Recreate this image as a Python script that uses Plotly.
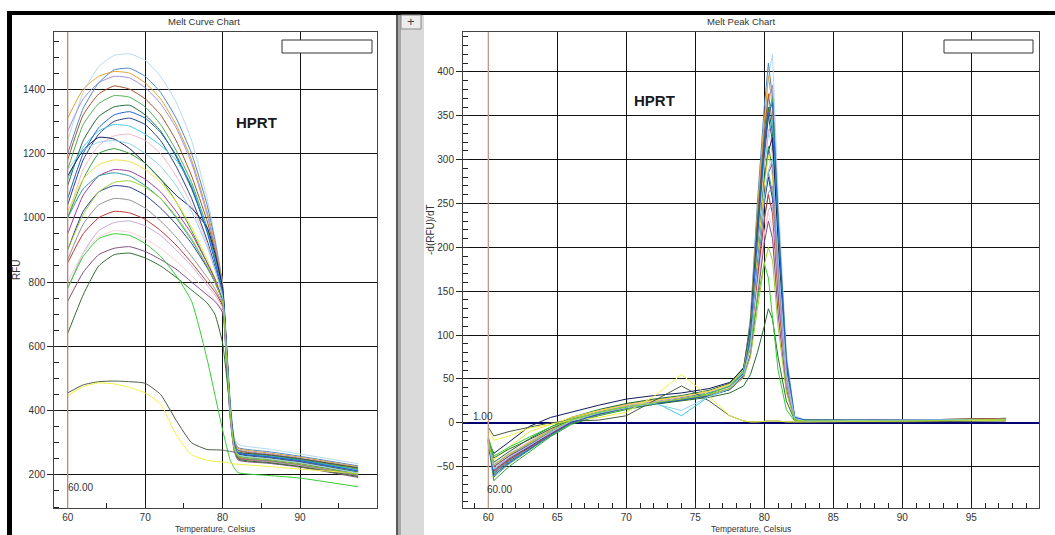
import plotly.graph_objects as go

# ---------------- data ----------------
melt_temps = [60, 62, 64, 66, 68, 70, 72, 74, 76, 78, 79, 80, 80.5, 81, 81.5, 82, 86, 90, 97.5]
peak_temps = [60.0, 60.4, 61.5, 63, 64.5, 66, 68, 70, 72, 74, 76, 77.5, 78.5, 79.0, 79.5,
              80.0, 80.3, 80.6, 81.0, 81.6, 82.2, 83, 90, 97.5]

well_colors = ["#b5d9ef", "#4f86c6", "#e0a030", "#9b8fd6", "#a0522d", "#4caf50", "#1e6b3a",
               "#27408b", "#3fc8e8", "#f2b8c6", "#101a5a", "#2e9e3e", "#f0e040", "#9c3a9c",
               "#2a9d9d", "#283593", "#909090", "#c03030", "#c8a8d8", "#f8d0d8", "#7d4e7d",
               "#2f6b2f", "#33cc33", "#4a5a45", "#f0f040", "#1f5fd0", "#8fd0f0", "#9acd32"]

melt_rfu = [
    [1240, 1390, 1470, 1505, 1510, 1490, 1440, 1360, 1240, 1060, 940, 800, 620, 430, 320, 295, 280, 265, 235],
    [1200, 1340, 1420, 1460, 1465, 1440, 1390, 1310, 1200, 1040, 930, 790, 610, 420, 310, 285, 272, 258, 228],
    [1310, 1400, 1440, 1455, 1450, 1420, 1370, 1290, 1180, 1020, 920, 790, 600, 410, 305, 282, 268, 255, 225],
    [1270, 1370, 1420, 1440, 1435, 1405, 1355, 1280, 1170, 1010, 910, 780, 600, 410, 300, 278, 265, 252, 222],
    [1180, 1320, 1385, 1410, 1400, 1370, 1320, 1240, 1130, 990, 900, 780, 600, 410, 300, 276, 262, 250, 220],
    [1150, 1290, 1355, 1380, 1375, 1345, 1290, 1210, 1110, 970, 880, 770, 590, 400, 295, 272, 260, 248, 218],
    [1100, 1240, 1315, 1345, 1350, 1320, 1270, 1190, 1090, 960, 870, 770, 590, 400, 295, 270, 258, 246, 215],
    [1040, 1180, 1260, 1300, 1310, 1290, 1240, 1160, 1060, 930, 850, 760, 590, 400, 290, 268, 255, 242, 212],
    [1120, 1220, 1270, 1290, 1285, 1260, 1225, 1180, 1100, 960, 870, 770, 600, 410, 295, 270, 258, 245, 215],
    [1000, 1150, 1225, 1255, 1260, 1240, 1200, 1130, 1040, 920, 840, 750, 580, 395, 290, 265, 252, 240, 210],
    [1130, 1210, 1250, 1245, 1215, 1170, 1120, 1070, 1030, 970, 890, 780, 600, 400, 290, 265, 252, 240, 208],
    [1000, 1120, 1200, 1215, 1200, 1170, 1120, 1050, 960, 860, 810, 740, 580, 395, 288, 262, 250, 238, 208],
    [1020, 1120, 1165, 1180, 1175, 1150, 1110, 1050, 970, 870, 815, 745, 580, 395, 288, 262, 250, 236, 205],
    [950, 1070, 1130, 1150, 1145, 1120, 1080, 1020, 950, 860, 810, 740, 575, 390, 285, 258, 246, 234, 203],
    [1000, 1090, 1130, 1140, 1130, 1100, 1060, 1000, 930, 850, 800, 740, 575, 390, 285, 258, 246, 233, 202],
    [900, 1020, 1080, 1100, 1095, 1070, 1030, 980, 920, 845, 800, 740, 570, 385, 282, 255, 244, 232, 200],
    [870, 980, 1040, 1060, 1055, 1030, 990, 940, 880, 815, 780, 730, 565, 380, 280, 254, 242, 230, 198],
    [860, 950, 1000, 1020, 1015, 995, 960, 915, 860, 800, 770, 725, 560, 380, 280, 252, 240, 228, 196],
    [780, 890, 960, 985, 990, 975, 945, 900, 850, 790, 760, 720, 560, 380, 278, 250, 240, 228, 196],
    [800, 890, 940, 960, 955, 935, 905, 865, 820, 770, 745, 710, 550, 375, 276, 248, 238, 226, 194],
    [740, 830, 885, 905, 910, 895, 870, 840, 800, 760, 740, 705, 545, 370, 275, 246, 236, 224, 192],
    [640, 760, 850, 885, 890, 875, 850, 815, 775, 735, 700, 610, 510, 400, 300, 250, 238, 226, 195],
    [780, 880, 935, 950, 945, 920, 880, 820, 740, 560, 450, 340, 290, 245, 222, 207, 198, 190, 163],
    [455, 480, 490, 492, 490, 485, 450, 370, 300, 279, 278, 277, 275, 273, 271, 269, 262, 250, 222],
    [446, 475, 486, 483, 472, 455, 420, 325, 262, 246, 242, 240, 238, 236, 234, 233, 226, 218, 205],
    [1060, 1200, 1280, 1320, 1330, 1310, 1265, 1195, 1095, 955, 865, 765, 590, 400, 292, 268, 256, 244, 212],
    [1150, 1210, 1235, 1240, 1230, 1200, 1160, 1100, 1020, 910, 840, 755, 585, 395, 288, 263, 250, 238, 206],
    [900, 1010, 1080, 1110, 1115, 1095, 1060, 1005, 935, 850, 800, 738, 572, 388, 283, 257, 246, 233, 201],
]

peak_drfu = [
    [-22, -55, -42, -28, -12, 2, 12, 20, 24, 28, 34, 42, 60, 110, 230, 340, 395, 420, 260, 80, 8, 3, 2, 4],
    [-20, -60, -45, -30, -14, 0, 10, 18, 23, 27, 33, 40, 58, 120, 250, 360, 410, 370, 220, 70, 6, 2, 3, 5],
    [-24, -50, -38, -22, -8, 5, 14, 21, 26, 30, 36, 44, 62, 115, 240, 345, 395, 360, 215, 65, 5, 3, 2, 4],
    [-19, -48, -36, -24, -10, 3, 13, 19, 24, 29, 34, 41, 57, 100, 215, 320, 370, 385, 240, 75, 7, 2, 3, 3],
    [-22, -58, -44, -29, -13, 1, 11, 18, 22, 27, 32, 39, 55, 108, 228, 330, 375, 340, 205, 62, 5, 2, 2, 4],
    [-20, -62, -47, -31, -15, -1, 9, 16, 21, 26, 31, 38, 54, 98, 205, 310, 355, 370, 235, 72, 6, 3, 3, 5],
    [-25, -45, -33, -18, -5, 6, 15, 22, 27, 31, 37, 45, 63, 112, 225, 318, 360, 330, 198, 60, 5, 2, 2, 3],
    [-18, -52, -40, -26, -11, 2, 12, 19, 24, 28, 33, 40, 56, 105, 215, 305, 350, 320, 190, 58, 4, 2, 3, 4],
    [-21, -56, -43, -29, -13, 1, 10, 17, 24, 8, 30, 38, 52, 95, 195, 290, 330, 345, 215, 66, 6, 2, 3, 4],
    [-23, -47, -35, -21, -7, 4, 13, 20, 25, 29, 35, 43, 60, 100, 205, 295, 335, 305, 180, 55, 4, 2, 2, 3],
    [-20, -35, -22, -4, 6, 12, 20, 27, 31, 34, 39, 46, 62, 98, 190, 275, 310, 325, 205, 63, 5, 3, 3, 4],
    [-22, -66, -50, -33, -16, -2, 8, 15, 21, 26, 31, 38, 54, 95, 190, 275, 315, 290, 172, 52, 4, 3, 2, 5],
    [-15, -42, -28, -10, -2, 6, 14, 20, 25, 30, 36, 44, 60, 100, 190, 270, 305, 280, 165, 50, 4, 2, 3, 4],
    [-21, -54, -41, -27, -12, 1, 11, 18, 23, 28, 33, 40, 55, 88, 175, 255, 285, 295, 185, 57, 5, 2, 3, 3],
    [-23, -57, -43, -28, -12, 1, 11, 18, 23, 28, 34, 41, 57, 92, 180, 255, 285, 262, 155, 47, 4, 2, 2, 4],
    [-19, -52, -40, -27, -12, 1, 10, 17, 22, 26, 31, 38, 53, 88, 175, 250, 280, 255, 150, 46, 3, 2, 3, 4],
    [-22, -50, -38, -25, -11, 2, 11, 18, 23, 27, 32, 39, 54, 82, 160, 232, 262, 270, 170, 52, 4, 2, 2, 3],
    [-20, -55, -42, -28, -13, 0, 10, 17, 22, 27, 32, 39, 54, 85, 165, 232, 260, 238, 140, 43, 3, 2, 3, 5],
    [-21, -48, -36, -23, -9, 3, 12, 19, 24, 28, 33, 40, 55, 80, 150, 215, 242, 250, 158, 48, 4, 2, 2, 3],
    [-22, -52, -39, -25, -11, 2, 11, 18, 23, 27, 33, 40, 55, 82, 152, 215, 240, 220, 130, 40, 3, 2, 3, 4],
    [-20, -50, -38, -25, -11, 2, 11, 18, 22, 27, 32, 38, 52, 78, 145, 205, 230, 210, 125, 38, 3, 2, 2, 4],
    [-18, -40, -30, -19, -7, 3, 11, 17, 21, 25, 29, 34, 42, 55, 80, 110, 130, 118, 75, 25, 3, 2, 2, 3],
    [-16, -38, -28, -16, -5, 4, 12, 18, 22, 27, 33, 42, 60, 90, 140, 182, 165, 120, 60, 15, 2, 2, 2, 3],
    [-5, -15, -10, -5, 0, 2, 3, 8, 25, 42, 25, 8, 2, 1, 1, 2, 2, 2, 2, 1, 1, 1, 1, 2],
    [-8, -20, -15, -6, -2, 3, 6, 12, 30, 55, 30, 8, 2, 1, 1, 2, 2, 2, 2, 1, 1, 1, 2, 3],
    [-22, -60, -46, -30, -14, 0, 10, 17, 22, 26, 31, 38, 55, 100, 210, 315, 352, 365, 230, 70, 6, 3, 3, 4],
    [-21, -53, -40, -26, -11, 2, 11, 17, 22, 14, 30, 39, 55, 88, 175, 255, 288, 300, 190, 58, 5, 2, 3, 4],
    [-20, -48, -36, -23, -9, 3, 12, 18, 23, 27, 32, 39, 52, 75, 130, 180, 200, 185, 110, 35, 3, 2, 2, 4],
]

melt_yticks = [200, 400, 600, 800, 1000, 1200, 1400]
melt_xticks = [60, 70, 80, 90]
peak_yticks = [-50, 0, 50, 100, 150, 200, 250, 300, 350, 400]
peak_xticks = [60, 65, 70, 75, 80, 85, 90, 95]

# ---------------- figure ----------------
W, H = 1055, 535


def px(x):
    return x / W


def py(y):
    return 1 - y / H


FONT = "Liberation Sans, Arial, sans-serif"
tickfont = dict(family=FONT, size=10, color="#333333")

fig = go.Figure()
for rfu, col in zip(melt_rfu, well_colors):
    fig.add_trace(go.Scatter(x=melt_temps, y=rfu, mode="lines",
                             line=dict(color=col, width=1, shape="spline", smoothing=0.5),
                             xaxis="x", yaxis="y", hoverinfo="skip", showlegend=False))
for d, col in zip(peak_drfu, well_colors):
    fig.add_trace(go.Scatter(x=peak_temps, y=d, mode="lines",
                             line=dict(color=col, width=1),
                             xaxis="x2", yaxis="y2", hoverinfo="skip", showlegend=False))

axis_common = dict(showgrid=True, gridcolor="#111111", gridwidth=1, showline=True,
                   linecolor="#444444", linewidth=1, mirror=True, tickfont=tickfont,
                   tickcolor="#222222")

fig.update_layout(
    width=W, height=H, autosize=False,
    margin=dict(l=0, r=0, t=0, b=0),
    paper_bgcolor="white", plot_bgcolor="white", showlegend=False,
    xaxis=dict(domain=[px(54.3), px(376.7)], range=[58.27, 99.9], tickmode="array",
               tickvals=melt_xticks, ticks="", zeroline=False, anchor="y",
               ticklabelstandoff=0,
               minor=dict(dtick=5, tick0=0, ticks="inside", ticklen=5, tickcolor="#222222",
                          showgrid=False),
               **axis_common),
    yaxis=dict(domain=[py(508.3), py(32)], range=[96, 1578], tickmode="array",
               tickvals=melt_yticks, ticks="outside", ticklen=6, zeroline=False, anchor="x",
               minor=dict(dtick=50, tick0=0, ticks="inside", ticklen=5, tickcolor="#222222",
                          showgrid=False),
               **axis_common),
    xaxis2=dict(domain=[px(463), px(1039.3)], range=[58.17, 99.93], tickmode="array",
                tickvals=peak_xticks, ticks="", zeroline=False, anchor="y2",
                ticklabelstandoff=0,
                minor=dict(dtick=1, tick0=0, ticks="inside", ticklen=5, tickcolor="#222222",
                           showgrid=False),
                **axis_common),
    yaxis2=dict(domain=[py(508.3), py(32)], range=[-97.5, 445.5], tickmode="array",
                tickvals=peak_yticks, ticks="outside", ticklen=6, anchor="x2",
                zeroline=True, zerolinecolor="#000070", zerolinewidth=2,
                minor=dict(dtick=10, tick0=0, ticks="inside", ticklen=5, tickcolor="#222222",
                           showgrid=False),
                **axis_common),
)

shapes = []


def prect(x0, y0, x1, y1, fill, line=None, lw=0):
    return dict(type="rect", xref="paper", yref="paper", x0=px(x0), x1=px(x1),
                y0=py(y1), y1=py(y0), fillcolor=fill,
                line=dict(color=line or fill, width=lw), layer="below")


# frame pieces
shapes.append(prect(396, 15, 398, 535, "#5a5a5a"))
shapes.append(prect(398, 15, 401, 535, "#a8a8a8"))
shapes.append(prect(401, 15, 424, 535, "#dadada"))
shapes.append(prect(7, 11, 1055, 15, "#000000"))
shapes.append(prect(7, 11, 12, 535, "#000000"))
# plus button
shapes.append(dict(type="rect", xref="paper", yref="paper", x0=px(401), x1=px(421),
                   y0=py(29), y1=py(15), fillcolor="#ececec",
                   line=dict(color="#8a8a8a", width=1), layer="above"))
# empty legend boxes
for (a, b) in [(282, 372), (944, 1033)]:
    shapes.append(dict(type="rect", xref="paper", yref="paper", x0=px(a), x1=px(b),
                       y0=py(53), y1=py(40), fillcolor="white",
                       line=dict(color="#333333", width=1), layer="above"))
# cursor lines at 60
shapes.append(dict(type="line", xref="x", yref="paper", x0=60, x1=60, y0=py(508.3), y1=py(32),
                   line=dict(color="#c8907a", width=1.3), layer="above"))
shapes.append(dict(type="line", xref="x2", yref="paper", x0=60, x1=60, y0=py(508.3), y1=py(32),
                   line=dict(color="#d8a898", width=1.3), layer="above"))
fig.update_layout(shapes=shapes)

small = dict(family=FONT, size=10, color="#333333")
ann = []


def note(x, y, text, font, xanchor="center", yanchor="middle", angle=0):
    ann.append(dict(xref="paper", yref="paper", x=px(x), y=py(y), text=text, showarrow=False,
                    font=font, xanchor=xanchor, yanchor=yanchor, textangle=angle, borderpad=0))


note(204, 21, "Melt Curve Chart", dict(family=FONT, size=9.5, color="#333333"))
note(741, 21, "Melt Peak Chart", dict(family=FONT, size=9.5, color="#333333"))
note(17, 270, "RFU", small, angle=-90)
note(430, 230, "-d(RFU)/dT", small, angle=-90)
axfont = dict(family=FONT, size=8.5, color="#333333")
note(215, 535, "Temperature, Celsius", axfont, yanchor="bottom")
note(751, 535, "Temperature, Celsius", axfont, yanchor="bottom")
note(67, 488, "60.00", small, xanchor="left")
note(486, 489, "60.00", small, xanchor="left")
note(472, 416, "1.00", small, xanchor="left")
hprt = dict(family=FONT, size=15, color="#1a1a1a")
note(256, 123, "<b>HPRT</b>", hprt)
note(654, 100, "<b>HPRT</b>", hprt)
note(411, 21.5, "+", dict(family=FONT, size=13, color="#444444"))
fig.update_layout(annotations=ann)

fig.write_html("out.html", config={"displayModeBar": False},
               post_script="document.body.style.margin='0px';")
